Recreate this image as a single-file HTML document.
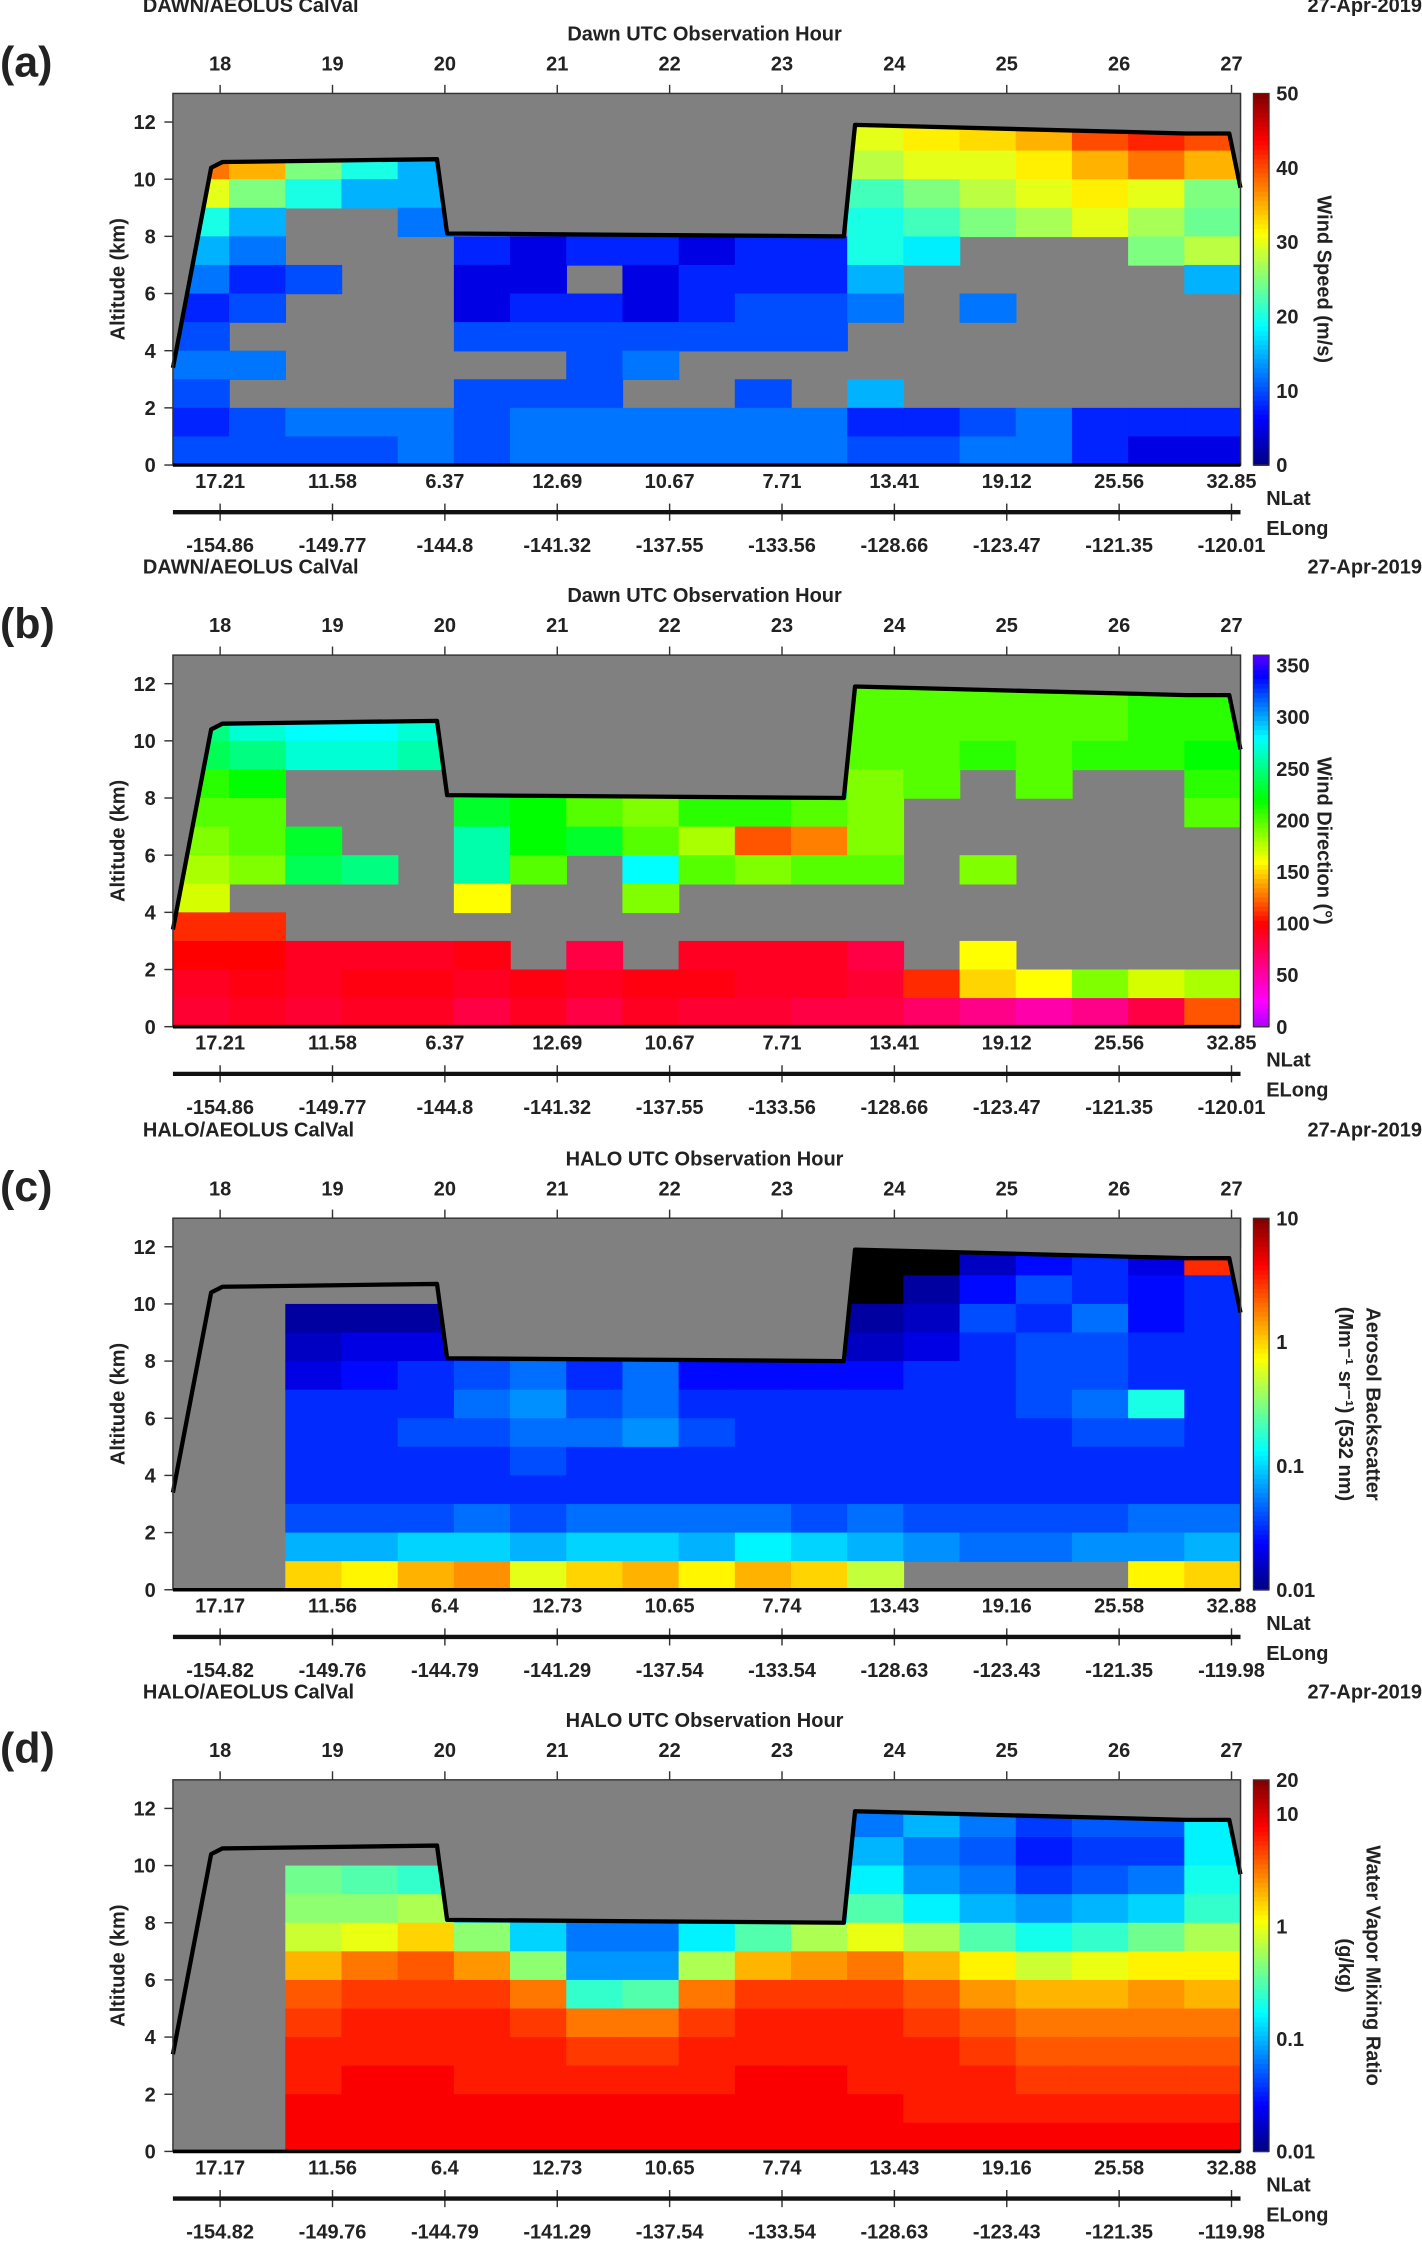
<!DOCTYPE html>
<html><head><meta charset="utf-8"><style>
html,body{margin:0;padding:0;background:#fff}
svg{display:block}
text{font-family:"Liberation Sans",Arial,sans-serif;font-weight:bold;fill:#222}
</style></head><body>
<svg id="fig" xmlns="http://www.w3.org/2000/svg" width="1422" height="2242" viewBox="0 0 995 1568"></svg>
<script>
// ---- data (rows listed from 12-13 km down to 0-1 km; columns every half hour from 17.58 h) ----
const hours=[17.83,18.33,18.83,19.33,19.83,20.33,20.83,21.33,21.83,22.33,22.83,23.33,23.83,24.33,24.83,25.33,25.83,26.33,26.83];
const n=null;
const speedRows=[
[35,35,25,20,15,30,30,30,30,30,30,30,30,32,33,35,40,42,40],
[35,35,25,20,15,30,30,30,30,30,30,30,30,32,33,35,40,42,40],
[38,35,25,20,15,n,n,n,n,n,n,n,28,30,30,32,35,38,35],
[30,25,20,15,15,n,n,n,n,n,n,n,22,25,28,30,32,30,25],
[20,15,n,n,12,n,n,n,n,n,n,n,20,22,25,27,30,27,24],
[15,12,n,n,n,8,5,8,8,5,8,8,20,18,n,n,n,25,28],
[12,8,10,n,n,5,5,n,5,8,8,8,15,n,n,n,n,n,15],
[8,10,n,n,n,5,8,8,5,8,10,10,12,n,12,n,n,n,n],
[10,n,n,n,n,10,10,10,10,10,10,10,n,n,n,n,n,n,n],
[12,12,n,n,n,n,n,10,12,n,n,n,n,n,n,n,n,n,n],
[10,n,n,n,n,10,10,10,n,n,10,n,15,n,n,n,n,n,n],
[8,10,12,12,12,10,12,12,12,12,12,12,8,8,10,12,8,8,8],
[10,10,10,10,12,10,12,12,12,12,12,12,10,10,12,12,8,5,5]];
const dirRows=[
[200,200,200,200,200,200,200,200,200,200,200,200,200,200,200,200,200,200,200],
[250,260,270,270,260,240,240,240,240,240,240,240,200,200,200,200,200,210,210],
[250,270,280,280,270,240,240,240,240,240,240,240,200,200,200,200,200,210,210],
[240,250,270,270,260,240,240,240,240,240,240,240,200,200,210,200,210,210,220],
[210,220,n,n,n,240,240,240,240,240,240,240,190,200,n,200,n,n,210],
[200,200,n,n,n,230,220,200,190,210,210,200,190,n,n,n,n,n,200],
[190,200,230,n,n,260,220,230,200,180,120,130,190,n,n,n,n,n,n],
[180,190,240,250,n,260,200,n,280,200,190,200,200,n,190,n,n,n,n],
[170,n,n,n,n,160,n,n,190,n,n,n,n,n,n,n,n,n,n],
[110,110,n,n,n,n,n,n,n,n,n,n,n,n,n,n,n,n,n],
[100,100,90,90,90,95,n,80,n,90,90,90,80,n,160,n,n,n,n],
[90,95,90,95,95,90,95,90,95,95,90,90,85,110,150,160,190,170,180],
[85,90,85,90,90,80,90,80,90,85,85,80,80,70,60,50,60,80,120]];
const aerosolRows=[ // log10 backscatter
[n,n,n,n,n,n,n,n,n,n,n,n,-2.2,-2.2,-2.2,-2.2,-2.2,-2.2,-2.2],
[n,n,n,n,n,n,n,n,n,n,n,n,-2.2,-2.1,-1.8,-1.6,-1.5,-1.7,0.5],
[n,n,n,n,n,n,n,n,n,n,n,n,-2.1,-1.9,-1.6,-1.4,-1.5,-1.6,-1.5],
[n,n,-1.9,-1.9,-1.9,n,n,n,n,n,n,n,-1.9,-1.8,-1.4,-1.5,-1.3,-1.6,-1.5],
[n,n,-1.8,-1.7,-1.7,-1.6,-1.6,-1.6,-1.6,-1.6,-1.6,-1.6,-1.8,-1.7,-1.5,-1.4,-1.4,-1.5,-1.5],
[n,n,-1.7,-1.6,-1.5,-1.4,-1.3,-1.5,-1.3,-1.6,-1.6,-1.6,-1.6,-1.5,-1.5,-1.4,-1.4,-1.5,-1.5],
[n,n,-1.5,-1.5,-1.5,-1.3,-1.2,-1.4,-1.3,-1.5,-1.5,-1.5,-1.5,-1.5,-1.5,-1.4,-1.3,-0.8,-1.5],
[n,n,-1.5,-1.5,-1.4,-1.4,-1.3,-1.3,-1.2,-1.4,-1.5,-1.5,-1.5,-1.5,-1.5,-1.5,-1.4,-1.4,-1.5],
[n,n,-1.5,-1.5,-1.5,-1.5,-1.4,-1.5,-1.5,-1.5,-1.5,-1.5,-1.5,-1.5,-1.5,-1.5,-1.5,-1.5,-1.5],
[n,n,-1.5,-1.5,-1.5,-1.5,-1.5,-1.5,-1.5,-1.5,-1.5,-1.5,-1.5,-1.5,-1.5,-1.5,-1.5,-1.5,-1.5],
[n,n,-1.4,-1.4,-1.4,-1.3,-1.4,-1.3,-1.3,-1.3,-1.3,-1.4,-1.3,-1.4,-1.4,-1.4,-1.4,-1.3,-1.3],
[n,n,-1.1,-1.1,-1.0,-1.0,-1.1,-1.0,-1.0,-1.1,-0.9,-1.0,-1.1,-1.2,-1.3,-1.3,-1.2,-1.2,-1.1],
[n,n,0.0,-0.1,0.1,0.2,-0.2,0.0,0.1,-0.1,0.1,0.0,-0.3,n,n,n,n,-0.1,0.0]];
const vaporRows=[ // log10 mixing ratio
[n,n,n,n,n,n,n,n,n,n,n,n,-1,-1,-1,-1,-1,-1,-1],
[n,n,n,n,n,n,n,n,n,n,n,n,-1.2,-1,-1.2,-1.4,-1.3,-1.3,-0.8],
[n,n,n,n,n,n,n,n,n,n,n,n,-1,-1.2,-1.3,-1.5,-1.4,-1.4,-0.8],
[n,n,-0.4,-0.5,-0.6,n,n,n,n,n,n,n,-0.8,-1.1,-1.2,-1.4,-1.3,-1.2,-0.7],
[n,n,-0.3,-0.3,-0.2,-0.9,-1.1,-1.2,-1.2,-1,-0.9,-0.8,-0.5,-0.8,-1,-1.1,-1,-0.9,-0.6],
[n,n,-0.1,0,0.2,-0.3,-0.9,-1.2,-1.2,-0.8,-0.5,-0.2,0,-0.2,-0.5,-0.7,-0.6,-0.4,-0.2],
[n,n,0.3,0.5,0.6,0.4,-0.3,-1.1,-1.1,-0.2,0.3,0.4,0.5,0.3,0.1,-0.1,0,0.1,0.1],
[n,n,0.6,0.7,0.7,0.7,0.5,-0.6,-0.5,0.5,0.7,0.7,0.7,0.6,0.4,0.3,0.3,0.4,0.3],
[n,n,0.7,0.8,0.8,0.8,0.7,0.5,0.5,0.7,0.8,0.8,0.8,0.7,0.6,0.5,0.5,0.5,0.5],
[n,n,0.8,0.8,0.8,0.8,0.8,0.7,0.7,0.8,0.8,0.8,0.8,0.8,0.7,0.6,0.6,0.6,0.6],
[n,n,0.8,0.9,0.9,0.8,0.8,0.8,0.8,0.8,0.9,0.9,0.8,0.8,0.8,0.7,0.7,0.7,0.7],
[n,n,0.9,0.9,0.9,0.9,0.9,0.9,0.9,0.9,0.9,0.9,0.9,0.8,0.8,0.8,0.8,0.8,0.8],
[n,n,0.9,0.9,0.9,0.9,0.9,0.9,0.9,0.9,0.9,0.9,0.9,0.9,0.9,0.9,0.9,0.9,0.9]];
const flightHours=[17.58,17.92,18.02,19.93,20.02,23.55,23.65,26.6,26.98,27.08];
const flightAlt=[3.4,10.4,10.6,10.7,8.1,8.0,11.9,11.6,11.6,9.7];
const topHourTicks=[18,19,20,21,22,23,24,25,26,27];
const altTicks=[0,2,4,6,8,10,12];
const latDawn=["17.21","11.58","6.37","12.69","10.67","7.71","13.41","19.12","25.56","32.85"];
const lonDawn=["-154.86","-149.77","-144.8","-141.32","-137.55","-133.56","-128.66","-123.47","-121.35","-120.01"];
const latHalo=["17.17","11.56","6.4","12.73","10.65","7.74","13.43","19.16","25.58","32.88"];
const lonHalo=["-154.82","-149.76","-144.79","-141.29","-137.54","-133.54","-128.63","-123.43","-121.35","-119.98"];

const svg=document.getElementById('fig');
const NS='http://www.w3.org/2000/svg';
function el(t,a,p){const e=document.createElementNS(NS,t);for(const k in a)e.setAttribute(k,a[k]);(p||svg).appendChild(e);return e;}
function txt(s,a,p){const e=el('text',a,p);e.textContent=s;return e;}
const X0=121,X1=868,H0=17.58,H1=27.08;
const xs=h=>X0+(h-H0)/(H1-H0)*(X1-X0);
function cl(v){return Math.max(0,Math.min(1,v));}
function jet(t){t=cl(t);const r=cl(1.5-Math.abs(4*t-3)),g=cl(1.5-Math.abs(4*t-2)),b=cl(1.5-Math.abs(4*t-1));return `rgb(${r*255|0},${g*255|0},${b*255|0})`;}
function hsvDir(v){let h=v<100?280+(v/100)*80:(v-100)*1.0;h=((h%360)+360)%360;return `hsl(${h},100%,50%)`;}
const GRAY='#808080';

const panels=[
 {lab:'(a)',rows:speedRows,base:325,head:'DAWN/AEOLUS CalVal',axis:'Dawn UTC Observation Hour',lat:latDawn,lon:lonDawn,
  cmap:v=>jet(v/50),cb:[0,50],cbt:[[0,'0'],[10,'10'],[20,'20'],[30,'30'],[40,'40'],[50,'50']],cbl:['Wind Speed  (m/s)'],name:'wind-speed'},
 {lab:'(b)',rows:dirRows,base:718,head:'DAWN/AEOLUS CalVal',axis:'Dawn UTC Observation Hour',lat:latDawn,lon:lonDawn,
  cmap:hsvDir,cb:[0,360],cbt:[[0,'0'],[50,'50'],[100,'100'],[150,'150'],[200,'200'],[250,'250'],[300,'300'],[350,'350']],cbl:['Wind Direction  (°)'],name:'wind-direction'},
 {lab:'(c)',rows:aerosolRows,base:1112,head:'HALO/AEOLUS CalVal',axis:'HALO UTC Observation Hour',lat:latHalo,lon:lonHalo,
  cmap:v=>v<-2.05?'#000':jet((v+2)/3),cb:[-2,1],cbt:[[-2,'0.01'],[-1,'0.1'],[0,'1'],[1,'10']],cbl:['Aerosol Backscatter','(Mm⁻¹ sr⁻¹) (532 nm)'],name:'aerosol-backscatter'},
 {lab:'(d)',rows:vaporRows,base:1505,head:'HALO/AEOLUS CalVal',axis:'HALO UTC Observation Hour',lat:latHalo,lon:lonHalo,
  cmap:v=>jet((v+2)/3.3),cb:[-2,1.3],cbt:[[-2,'0.01'],[-1,'0.1'],[0,'1'],[1,'10'],[1.301,'20']],cbl:['Water Vapor Mixing Ratio','(g/kg)'],name:'water-vapor'}
];
const KM=20;
panels.forEach((P,pi)=>{
 const g=el('g',{});
 
 
 const ys=a=>P.base-a*KM, top=ys(13);
 const h1=txt(P.head,{x:100,y:P.base-317,'font-size':14},g);
 
 const h2=txt('27-Apr-2019',{x:995,y:P.base-317,'font-size':14,'text-anchor':'end'},g);
 
 const ax=txt(P.axis,{x:493,y:P.base-297,'font-size':14,'text-anchor':'middle'},g);
 
 const pl=txt(P.lab,{x:0,y:P.base-272,'font-size':30},g);
 
 const bg=el('rect',{x:X0,y:top,width:X1-X0,height:13*KM,fill:GRAY},g);
 
 P.rows.forEach((row,ri)=>{
  const alt=12-ri;
  row.forEach((v,ci)=>{
   if(v===null)return;
   const h=hours[ci];
   const x=xs(h-0.25),w=xs(h+0.25)-x;
   const c=el('rect',{x:Math.max(X0,x),y:ys(alt+1),width:Math.min(X1,x+w)-Math.max(X0,x)+0.5,height:KM+0.5,fill:P.cmap(v)},g);
   
   
  });
 });
 let pts=`${xs(H0)},${top} `;
 flightHours.forEach((h,i)=>pts+=`${xs(h)},${ys(flightAlt[i])} `);
 pts+=`${X1},${ys(flightAlt[flightAlt.length-1])} ${X1},${top}`;
 el('polygon',{points:pts,fill:GRAY},g);
 let lp='';flightHours.forEach((h,i)=>lp+=`${xs(h)},${ys(flightAlt[i])} `);
 const fl=el('polyline',{points:lp,fill:'none',stroke:'#000','stroke-width':3,'stroke-linejoin':'round'},g);
 
 el('rect',{x:X0,y:top,width:X1-X0,height:13*KM,fill:'none',stroke:'#333','stroke-width':1},g);
 el('line',{x1:X0,x2:X1,y1:P.base,y2:P.base,stroke:'#000','stroke-width':2.5},g);
 altTicks.forEach(a=>{
  el('line',{x1:X0-6,x2:X0,y1:ys(a),y2:ys(a),stroke:'#333'},g);
  txt(String(a),{x:X0-12,y:ys(a)+5,'font-size':14,'text-anchor':'end'},g);
 });
 const yt=txt('Altitude (km)',{x:0,y:0,'font-size':14,'text-anchor':'middle',transform:`translate(87,${ys(6.5)}) rotate(-90)`},g);
 
 topHourTicks.forEach((h,i)=>{
  const x=xs(h);
  el('line',{x1:x,x2:x,y1:top-6,y2:top,stroke:'#333'},g);
  txt(String(h),{x:x,y:top-16,'font-size':14,'text-anchor':'middle'},g);
  txt(P.lat[i],{x:x,y:P.base+16,'font-size':14,'text-anchor':'middle'},g);
  el('line',{x1:x,x2:x,y1:P.base+27,y2:P.base+39,stroke:'#333'},g);
  txt(P.lon[i],{x:x,y:P.base+61,'font-size':14,'text-anchor':'middle'},g);
 });
 el('line',{x1:X0,x2:X1,y1:P.base+33,y2:P.base+33,stroke:'#111','stroke-width':3},g);
 txt('NLat',{x:886,y:P.base+28,'font-size':14},g);
 txt('ELong',{x:886,y:P.base+49,'font-size':14},g);
 const cbX=877,cbW=11,N=80;
 const cbg=el('g',{},g);
 
 for(let k=0;k<N;k++){
  const v=P.cb[0]+(k+0.5)/N*(P.cb[1]-P.cb[0]);
  const y=P.base-(k+1)/N*13*KM;
  el('rect',{x:cbX,y:y,width:cbW,height:13*KM/N+0.6,fill:P.cmap(v)},cbg);
 }
 el('rect',{x:cbX,y:top,width:cbW,height:13*KM,fill:'none',stroke:'#333','stroke-width':0.8},cbg);
 P.cbt.forEach(([v,s])=>{
  const y=P.base-(v-P.cb[0])/(P.cb[1]-P.cb[0])*13*KM;
  txt(s,{x:893,y:y+5,'font-size':14},cbg);
 });
 P.cbl.forEach((s,k)=>{
  const cx=P.cbl.length===1?922:(956-k*19);
  const t=txt(s,{x:0,y:0,'font-size':14,'text-anchor':'middle',transform:`translate(${cx},${ys(6.5)}) rotate(90)`},cbg);
  
 });
});
</script>
</body></html>
